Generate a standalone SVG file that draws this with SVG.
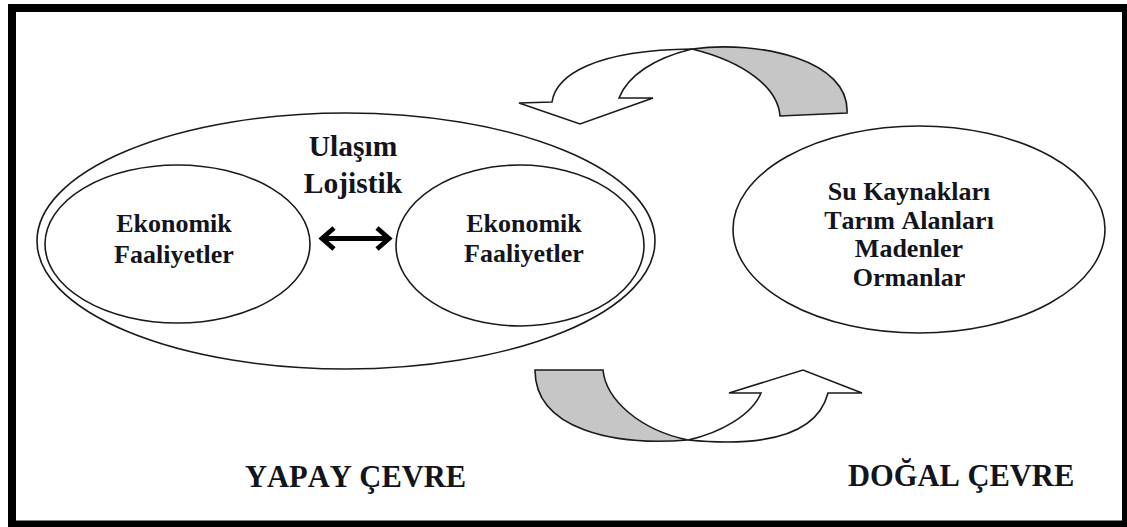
<svg xmlns="http://www.w3.org/2000/svg" width="1127" height="527" viewBox="0 0 1127 527">
  <style>
    .shape { fill: #ffffff; stroke: #1a1a1a; stroke-width: 1.6; }
    .band { stroke: #1a1a1a; stroke-width: 1.6; stroke-linejoin: miter; }
    .back { fill: #c6c6c6; }
    .front { fill: #ffffff; }
    text { font-kerning: none; }
    .lbl { font-family: "Liberation Serif", "Times New Roman", serif; font-weight: bold; fill: #14141c; text-anchor: middle; }
    .caption { font-family: "Liberation Serif", "Times New Roman", serif; font-weight: bold; fill: #14141c; font-size: 30.5px; }
  </style>

  <!-- page background and heavy frame -->
  <rect x="0" y="0" width="1127" height="527" fill="#ffffff"/>
  <rect id="frame" x="12" y="8" width="1114" height="516.5" fill="none" stroke="#000000" stroke-width="8"/>

  <!-- built environment: outer boundary -->
  <g id="node-yapay-cevre">
    <ellipse class="shape" cx="346" cy="241" rx="309" ry="128"/>
  </g>

  <!-- economic activity, left -->
  <g id="node-ekonomik-1">
    <ellipse class="shape" cx="177.5" cy="244" rx="132.5" ry="79"/>
    <text class="lbl" font-size="26" x="174" y="232">Ekonomik</text>
    <text class="lbl" font-size="26" x="174" y="263">Faaliyetler</text>
  </g>

  <!-- economic activity, right -->
  <g id="node-ekonomik-2">
    <ellipse class="shape" cx="520" cy="245.5" rx="124" ry="80.5"/>
    <text class="lbl" font-size="26" x="524" y="232">Ekonomik</text>
    <text class="lbl" font-size="26" x="524" y="262">Faaliyetler</text>
  </g>

  <!-- transport / logistics label -->
  <g id="node-ulasim">
    <text class="lbl" font-size="29.5" x="353" y="156">Ulaşım</text>
    <text class="lbl" font-size="29.5" x="353" y="193">Lojistik</text>
  </g>

  <!-- natural environment -->
  <g id="node-dogal-cevre">
    <ellipse class="shape" cx="919" cy="229.5" rx="186" ry="103.5"/>
    <text class="lbl" font-size="26" x="909" y="200">Su Kaynakları</text>
    <text class="lbl" font-size="26" x="909" y="228.5">Tarım Alanları</text>
    <text class="lbl" font-size="26" x="909" y="257">Madenler</text>
    <text class="lbl" font-size="26" x="909" y="285.5">Ormanlar</text>
  </g>

  <!-- connectors -->
  <g id="connectors">
    <!-- two-way exchange between activities -->
    <g id="link-exchange" fill="none" stroke="#000000" stroke-width="4.8" stroke-linejoin="miter" stroke-linecap="butt">
      <line x1="323" y1="238.5" x2="388" y2="238.5"/>
      <polyline points="334,228 322,238.5 334,249"/>
      <polyline points="377,228 389,238.5 377,249"/>
    </g>

    <!-- resources flowing from nature to the built environment -->
    <g id="link-dogal-to-yapay">
      <path class="band back" d="M692,49 C760,40 850,60 847,113 L780,116 C778,88 745,62 692,49 Z"/>
      <path class="band front" d="M692,49 C595,50 556,75 552,102 L519,103 L580,124 L653,98 L619,98 C628,75 655,58 692,49 Z"/>
    </g>

    <!-- outputs flowing from the built environment to nature -->
    <g id="link-yapay-to-dogal">
      <path class="band back" d="M535,370 L603,370 C606,400 640,430 688,440 C615,446 535,430 535,370 Z"/>
      <path class="band front" d="M688,440 C720,433 752,415 761,393 L729,393 L803,370 L862,393 L828,393 C818,432 772,448 688,440 Z"/>
    </g>
  </g>

  <!-- captions -->
  <text id="caption-yapay" class="caption" x="245" y="487">YAPAY ÇEVRE</text>
  <text id="caption-dogal" class="caption" x="848" y="486" font-size="31">DOĞAL ÇEVRE</text>
</svg>
